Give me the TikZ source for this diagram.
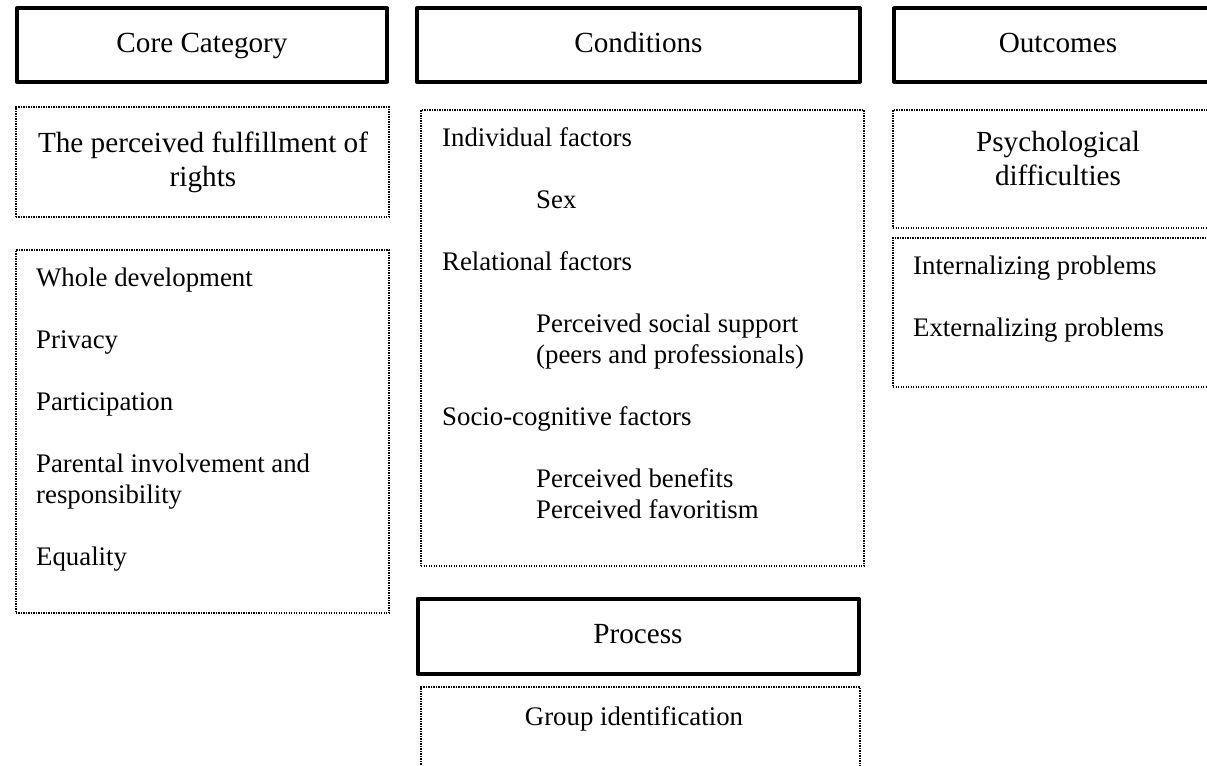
\documentclass[tikz,border=0pt]{standalone}
\usepackage{fontspec}
\setmainfont{Liberation Serif}

\newcommand{\itemsize}{\fontsize{26.8bp}{31bp}\selectfont}
\newcommand{\headsize}{\fontsize{29.2bp}{34bp}\selectfont}

\tikzset{
  headbox/.style={draw, line width=4bp, line join=round, font=\headsize,
    text height=20bp, text depth=5bp, inner sep=0},
  dotbox/.style={draw, line width=1.3bp, dash pattern=on 1.3bp off 1.2bp, inner sep=0},
  item/.style={anchor=base west, font=\itemsize, inner sep=0},
  mid/.style={anchor=base, inner sep=0}
}

\begin{document}
\begin{tikzpicture}[x=1bp,y=-1bp]

      \useasboundingbox (0,0) rectangle (1207,766);
      \clip (0,0) rectangle (1207,766);

      % headings
      \begin{scope}[every node/.style={headbox, minimum height=73bp}]
        \node[minimum width=370bp] (core) at (202,45)    {Core Category};
        \node[minimum width=443bp] (cond) at (638.5,45)  {Conditions};
        \node[minimum width=340bp] (outc) at (1064,45)   {\hspace*{-12bp}Outcomes};
        \node[minimum width=441bp, minimum height=75bp] (proc) at (638,636) {Process};
      \end{scope}

      % dotted boxes
      \begin{scope}[every node/.style={dotbox}]
        \node[minimum width=373bp, minimum height=110bp] (rights)  at (202.5,162)   {};
        \node[minimum width=373bp, minimum height=363bp] (rlist)   at (202.5,431.5) {};
        \node[minimum width=443bp, minimum height=456bp] (factors) at (642.5,338)   {};
        \node[minimum width=439bp, minimum height=113bp] (ident)   at (640.5,743.5) {};
        \node[minimum width=342bp, minimum height=118bp] (psych)   at (1064,169)    {};
        \node[minimum width=342bp, minimum height=149bp] (probs)   at (1064,312.5)  {};
      \end{scope}

      % centred texts
      \begin{scope}[every node/.style={mid, font=\headsize}]
        \node (rights1) at (203,152) {The perceived fulfillment of};
        \node (rights2) at (203,186) {rights};
        \node (psych1)  at (1058,151) {Psychological};
        \node (psych2)  at (1058,185) {difficulties};
      \end{scope}
      \node[mid, font=\itemsize] (group) at (634,725) {Group identification};

      % list items
      \begin{scope}[every node/.style={item}]
        \node (whole)   at (36,286) {Whole development};
        \node (priv)    at (36,348) {Privacy};
        \node (part)    at (36,410) {Participation};
        \node (paren1)  at (36,472) {Parental involvement and};
        \node (paren2)  at (36,503) {responsibility};
        \node (equal)   at (36,565) {Equality};

        \node (indiv)   at (442,146) {Individual factors};
        \node (sex)     at (536,208) {Sex};
        \node (relat)   at (442,270) {Relational factors};
        \node (support) at (536,332) {Perceived social support};
        \node (peers)   at (536,363) {(peers and professionals)};
        \node (socio)   at (442,425) {Socio-cognitive factors};
        \node (benef)   at (536,487) {Perceived benefits};
        \node (favor)   at (536,518) {Perceived favoritism};

        \node (intern)  at (913,274) {Internalizing problems};
        \node (extern)  at (913,336) {Externalizing problems};
      \end{scope}

    \end{tikzpicture}
\end{document}
